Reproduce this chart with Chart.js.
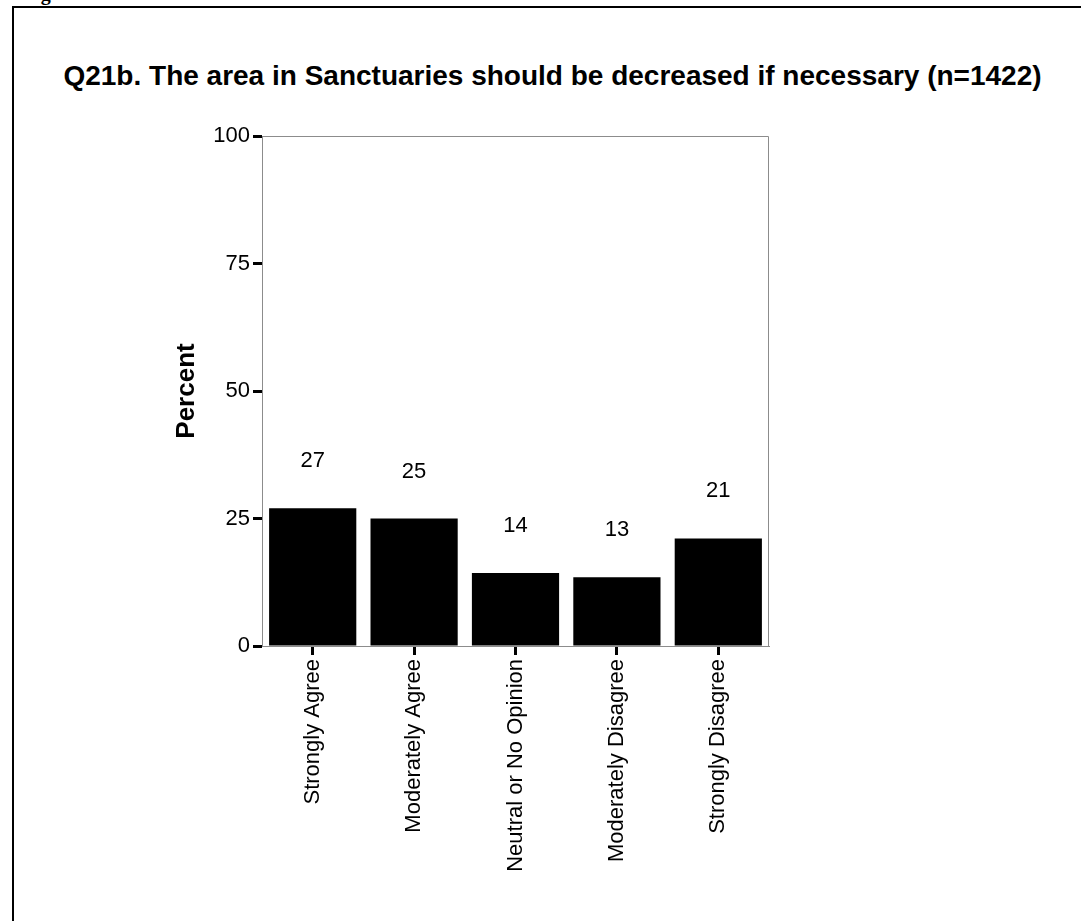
<!DOCTYPE html>
<html>
<head>
<meta charset="utf-8">
<script src="https://cdn.jsdelivr.net/npm/chart.js@4.4.1/dist/chart.umd.min.js"></script>
<style>
  html, body { margin: 0; padding: 0; background: #fff; overflow: hidden; }
  #page { position: relative; width: 1081px; height: 921px; overflow: hidden; }
  #frame { position: absolute; left: 12px; top: 6px; width: 1200px; height: 1000px; border-left: 2px solid #000; border-top: 2px solid #000; }
  #cut { position: absolute; left: 23px; top: -17px; font: bold 20px 'Liberation Serif', 'Times New Roman', serif; line-height: 20px; color: #000; }
  #title { position: absolute; left: 0; width: 1105px; top: 62px; text-align: center; font: bold 28px 'Liberation Sans', Arial, sans-serif; line-height: 28px; color: #000; white-space: nowrap; }
  #wrap { position: absolute; left: 0; top: 0; width: 1081px; height: 921px; }
</style>
</head>
<body>
<div id="page">
  <div id="frame"></div>
  <div id="cut">Figure</div>
  <div id="title">Q21b. The area in Sanctuaries should be decreased if necessary (n=1422)</div>
  <div id="wrap"><canvas id="c"></canvas></div>
</div>
<script>
// answer categories, percent values and the printed labels above each bar
const categories = ['Strongly Agree', 'Moderately Agree', 'Neutral or No Opinion', 'Moderately Disagree', 'Strongly Disagree'];
const percents = [27.0, 25.0, 14.3, 13.5, 21.1];
const valueLabels = ['27', '25', '14', '13', '21'];
const yTicks = [0, 25, 50, 75, 100];

const FONT = "'Liberation Sans', Arial, sans-serif";
const AXIS_GRAY = '#8c8c8c';

// plot box: left 262, right 769, top 136, bottom 646
const padLeft = 171;
const yAxisWidth = 262 - padLeft;
const xAxisHeight = 921 - 646;

// gray box around the plot (top and right sides)
const frameBox = {
  id: 'frameBox',
  afterDraw(chart) {
    const { ctx, chartArea: a } = chart;
    ctx.save();
    ctx.strokeStyle = AXIS_GRAY;
    ctx.lineWidth = 1;
    ctx.beginPath();
    ctx.moveTo(a.left, a.top + 0.5);
    ctx.lineTo(a.right - 0.5, a.top + 0.5);
    ctx.lineTo(a.right - 0.5, a.bottom);
    ctx.stroke();
    ctx.restore();
  },
};

// numbers printed above the bars
const barValues = {
  id: 'barValues',
  afterDatasetsDraw(chart) {
    const { ctx } = chart;
    const meta = chart.getDatasetMeta(0);
    ctx.save();
    ctx.fillStyle = '#000';
    ctx.font = '22px ' + FONT;
    ctx.textAlign = 'center';
    ctx.textBaseline = 'middle';
    meta.data.forEach((bar, i) => {
      ctx.fillText(valueLabels[i], bar.x, bar.y - 47);
    });
    ctx.restore();
  },
};

new Chart(document.getElementById('c'), {
  type: 'bar',
  data: {
    labels: categories,
    datasets: [{
      data: percents,
      backgroundColor: '#000',
      borderWidth: 0,
      barPercentage: 0.86,
      categoryPercentage: 1,
    }],
  },
  plugins: [frameBox, barValues],
  options: {
    responsive: true, maintainAspectRatio: false, animation: false,
    devicePixelRatio: 1,
    layout: { padding: { top: 136, left: padLeft, right: 1081 - 769, bottom: 0 } },
    plugins: { legend: { display: false }, tooltip: { enabled: false } },
    scales: {
      x: {
        afterFit(s) { s.height = xAxisHeight; },
        grid: { offset: false, drawOnChartArea: false, tickLength: 9, tickWidth: 3, tickColor: '#000' },
        border: { color: AXIS_GRAY, width: 1 },
        ticks: { color: '#000', font: { family: FONT, size: 22 }, minRotation: 90, maxRotation: 90, autoSkip: false, padding: 4 },
      },
      y: {
        min: 0, max: 100,
        afterFit(s) { s.width = yAxisWidth; },
        afterBuildTicks(s) { s.ticks = yTicks.map((v) => ({ value: v })); },
        grid: { drawOnChartArea: false, tickLength: 9, tickWidth: 3, tickColor: '#000' },
        border: { color: AXIS_GRAY, width: 1 },
        ticks: { color: '#000', font: { family: FONT, size: 22 }, padding: 3 },
        title: { display: true, text: 'Percent', color: '#000', font: { family: FONT, size: 26, weight: 'bold' }, padding: { top: 0, bottom: 0 } },
      },
    },
  },
});
</script>
</body>
</html>
